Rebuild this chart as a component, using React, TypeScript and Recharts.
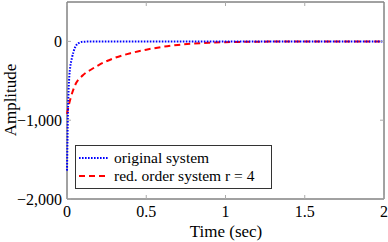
import { LineChart, Line, XAxis, YAxis, ReferenceArea } from 'recharts';

const timeOriginal = [0, 0.003, 0.006, 0.01, 0.015, 0.02, 0.03, 0.04, 0.05, 0.06, 0.08, 0.1, 0.15, 0.3, 0.6, 1, 1.5, 2];
const ampOriginal = [-1640, -1250, -900, -620, -430, -330, -220, -140, -80, -45, -15, -5, -1, 0, 0, 0, 0, 0];

const timeReduced = [0, 0.01, 0.02, 0.05, 0.1, 0.15, 0.2, 0.3, 0.4, 0.5, 0.6, 0.7, 0.8, 0.9, 1, 1.2, 1.5, 2];
const ampReduced = [-920, -820, -740, -560, -430, -360, -300, -210, -150, -105, -70, -45, -28, -18, -10, -4, -1, 0];

const xTicks = [0, 0.5, 1, 1.5, 2];
const yTicks = [-2000, -1000, 0];

const seriesNames = ['original system', 'red. order system r = 4'];

const originalData = timeOriginal.map((t, i) => ({ t, v: ampOriginal[i] }));
const reducedData = timeReduced.map((t, i) => ({ t, v: ampReduced[i] }));

const FONT = 'Liberation Serif, DejaVu Serif, serif';
const FS = 17;
const TICK_FS = 16;
const LEGEND_FS = 15.5;
const PLOT_LEFT = 67;
const PLOT_RIGHT = 384;
const PLOT_TOP = 2;
const PLOT_BOTTOM = 199;
const TICK_COLOR = '#aaa';

const fmtY = (v: number) => (v < 0 ? '\u2212' : '') + Math.abs(v).toLocaleString('en-US');

function XTick(props: any) {
  const { x, payload } = props;
  return (
    <g>
      <line x1={x} x2={x} y1={PLOT_BOTTOM} y2={PLOT_BOTTOM - 4} stroke={TICK_COLOR} />
      <line x1={x} x2={x} y1={PLOT_TOP} y2={PLOT_TOP + 4} stroke={TICK_COLOR} />
      <text x={x} y={211} textAnchor="middle" dominantBaseline="central" fontFamily={FONT} fontSize={TICK_FS} fill="#000">
        {String(payload.value)}
      </text>
    </g>
  );
}

function YTick(props: any) {
  const { y, payload } = props;
  return (
    <g>
      <line x1={PLOT_LEFT} x2={PLOT_LEFT + 4} y1={y} y2={y} stroke={TICK_COLOR} />
      <line x1={PLOT_RIGHT} x2={PLOT_RIGHT - 4} y1={y} y2={y} stroke={TICK_COLOR} />
      <text x={62} y={y} textAnchor="end" dominantBaseline="central" fontFamily={FONT} fontSize={TICK_FS} fill="#000">
        {fmtY(payload.value)}
      </text>
    </g>
  );
}

const XLabel = () => (
  <text x={226} y={231} textAnchor="middle" dominantBaseline="central" fontFamily={FONT} fontSize={FS} fill="#000">
    Time (sec)
  </text>
);

const YLabel = () => (
  <text
    x={10}
    y={100}
    textAnchor="middle"
    dominantBaseline="central"
    fontFamily={FONT}
    fontSize={FS}
    fill="#000"
    transform="rotate(-90 10 100)"
  >
    Amplitude
  </text>
);

function LegendBox() {
  const rows = [
    { name: seriesNames[0], color: '#0000ff', dash: '1.6 1.4' },
    { name: seriesNames[1], color: '#ff0000', dash: '6 4' },
  ];
  return (
    <div
      style={{
        position: 'absolute',
        left: 75,
        top: 145,
        width: 197,
        height: 44,
        border: '1px solid #333',
        background: '#fff',
        fontFamily: FONT,
        fontSize: LEGEND_FS,
        boxSizing: 'border-box',
        lineHeight: 1,
      }}
    >
      {rows.map((r, i) => (
        <div key={i} style={{ display: 'flex', alignItems: 'center', height: 18, marginTop: i === 0 ? 3 : 0 }}>
          <svg width={32} height={10} style={{ marginLeft: 2 }}>
            <line x1={1} x2={31} y1={5} y2={5} stroke={r.color} strokeWidth={2} strokeDasharray={r.dash} />
          </svg>
          <span style={{ marginLeft: 4, color: '#000' }}>{r.name}</span>
        </div>
      ))}
    </div>
  );
}

export default function App() {
  return (
    <div style={{ position: 'fixed', left: 0, top: 0, width: 388, height: 242, background: '#fff' }}>
      <LineChart width={388} height={242} margin={{ top: PLOT_TOP, right: 388 - PLOT_RIGHT, bottom: 0, left: 0 }}>
        <XAxis
          type="number"
          dataKey="t"
          domain={[0, 2]}
          ticks={xTicks}
          allowDuplicatedCategory={false}
          height={242 - PLOT_BOTTOM}
          axisLine={false}
          tickLine={false}
          tick={<XTick />}
          label={<XLabel />}
        />
        <YAxis
          type="number"
          dataKey="v"
          domain={[-2000, 500]}
          ticks={yTicks}
          width={PLOT_LEFT}
          axisLine={false}
          tickLine={false}
          tick={<YTick />}
          label={<YLabel />}
        />
        <ReferenceArea x1={0} x2={2} y1={-2000} y2={500} fill="none" stroke="#444" strokeWidth={1} ifOverflow="visible" />
        <Line
          data={reducedData}
          dataKey="v"
          name={seriesNames[1]}
          type="monotone"
          stroke="#ff0000"
          strokeWidth={2}
          strokeDasharray="6 4"
          dot={false}
          isAnimationActive={false}
        />
        <Line
          data={originalData}
          dataKey="v"
          name={seriesNames[0]}
          type="monotone"
          stroke="#0000ff"
          strokeWidth={2}
          strokeDasharray="1.6 1.4"
          dot={false}
          isAnimationActive={false}
        />
      </LineChart>
      <LegendBox />
    </div>
  );
}
